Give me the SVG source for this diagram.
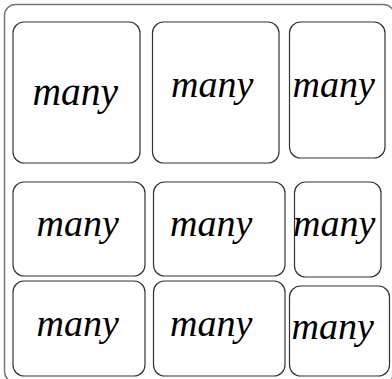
<svg xmlns="http://www.w3.org/2000/svg" width="392" height="379" viewBox="0 0 392 379">
<style>
.outer{fill:#fff;stroke:#777;stroke-width:1.5}
.box{fill:#fff;stroke:#333;stroke-width:1.2}
.t{font-family:"Liberation Serif","Times New Roman",serif;font-style:italic;font-size:38px;fill:#000}
</style>
<rect class="outer" x="4.5" y="4.5" width="390" height="378" rx="11"/>
<g id="n1"><rect class="box" x="13" y="22" width="127" height="141" rx="11"/><text class="t" x="32.5" y="105" style="font-size:39.5px">many</text></g>
<g id="n2"><rect class="box" x="152.5" y="22" width="126.5" height="141" rx="11"/><text class="t" x="171" y="97">many</text></g>
<g id="n3"><rect class="box" x="289.5" y="22" width="95.5" height="136" rx="11"/><text class="t" x="292.5" y="97">many</text></g>
<g id="n4"><rect class="box" x="13" y="182" width="132" height="94" rx="11"/><text class="t" x="36.5" y="236">many</text></g>
<g id="n5"><rect class="box" x="153.5" y="182" width="131.5" height="94" rx="11"/><text class="t" x="170" y="236">many</text></g>
<g id="n6"><rect class="box" x="294.5" y="182" width="86.5" height="95" rx="11"/><text class="t" x="293" y="236">many</text></g>
<g id="n7"><rect class="box" x="13" y="281" width="132" height="95" rx="11"/><text class="t" x="36.5" y="336">many</text></g>
<g id="n8"><rect class="box" x="153.5" y="281" width="131.5" height="95" rx="11"/><text class="t" x="170" y="336">many</text></g>
<g id="n9"><rect class="box" x="289.5" y="286" width="100" height="90" rx="11"/><text class="t" x="291.5" y="339">many</text></g>
<g id="connectors"/>
</svg>
